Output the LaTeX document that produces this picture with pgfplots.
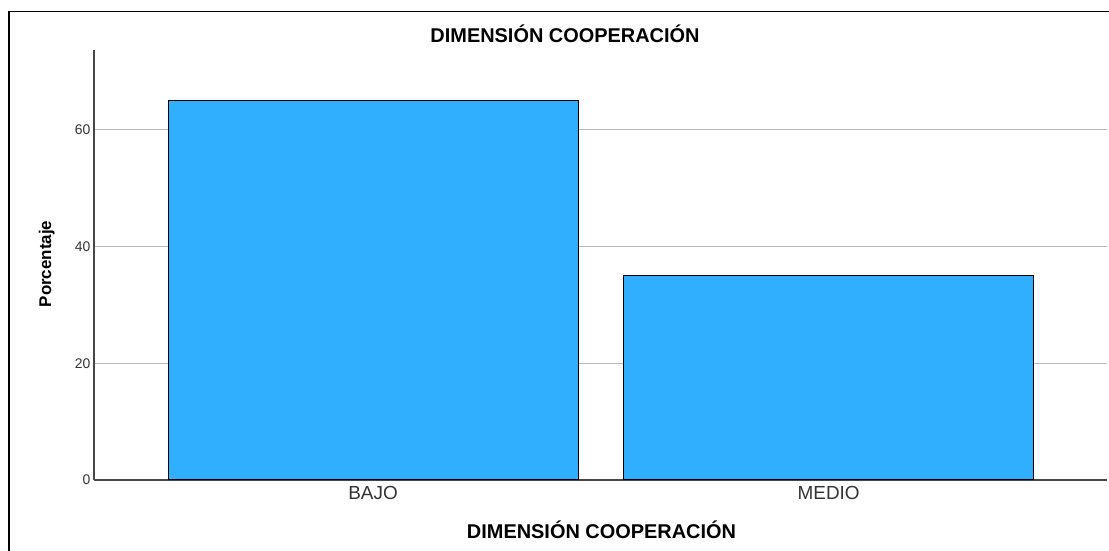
\documentclass[border=0pt]{standalone}
\usepackage{fontspec}
\setmainfont{Liberation Sans}
\usepackage{pgfplots}
\pgfplotsset{compat=1.18}
\definecolor{barblue}{RGB}{48,174,255}
\begin{document}
\begin{tikzpicture}[x=1bp,y=1bp]
\useasboundingbox (0,0) rectangle (1109,551);
\draw[line width=1.6bp, black] (9,-5) -- (9,539.5) -- (1115,539.5);
\begin{axis}[
  at={(94bp,71bp)}, anchor=south west,
  scale only axis, width=1013bp, height=430bp,
  xmin=-0.6125, xmax=1.611, ymin=0, ymax=73.7,
  axis x line*=bottom, axis y line*=left,
  axis line style={color=black!72, line width=1.2bp},
  xtick={0,1}, xticklabels={BAJO,MEDIO},
  ytick={0,20,40,60},
  major tick length=0pt,
  ymajorgrids, grid style={color=black!28, line width=0.9bp},
  x tick label style={font=\fontsize{19}{22}\selectfont, color=black!80, yshift=-3bp},
  y tick label style={font=\fontsize{14}{16}\selectfont, color=black!80},
  /pgf/number format/assume math mode=true,
  ybar, bar width=0.9,
]
\addplot[fill=barblue, draw=black, line width=1bp] coordinates {(0,65) (1,35)};
\end{axis}
\node[anchor=base, font=\bfseries\fontsize{20}{24}\selectfont] at (565,508.5) {DIMENSIÓN COOPERACIÓN};
\node[anchor=base, font=\bfseries\fontsize{20}{24}\selectfont] at (601.5,12) {DIMENSIÓN COOPERACIÓN};
\node[rotate=90, anchor=base, font=\bfseries\fontsize{17}{20}\selectfont] at (51,287) {Porcentaje};
\end{tikzpicture}
\end{document}
